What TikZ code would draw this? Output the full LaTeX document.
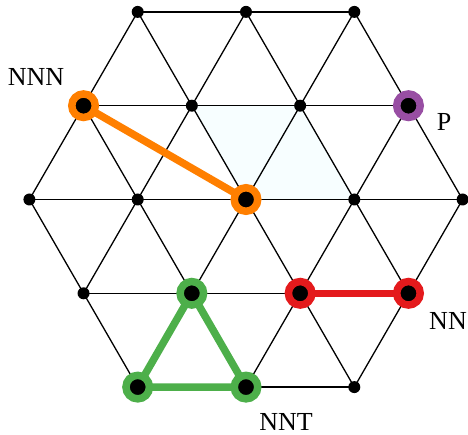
\documentclass[tikz,border=0pt]{standalone}
\usepackage{fontspec}
\setmainfont{Liberation Serif}
\definecolor{cOrange}{HTML}{FF7F00}
\definecolor{cRed}{HTML}{E41A1C}
\definecolor{cGreen}{HTML}{4DAF4A}
\definecolor{cPurple}{HTML}{984EA3}
\definecolor{cShade}{rgb}{0.968,0.996,1}
\begin{document}
\begin{tikzpicture}[x=1pt,y=-1pt,
  lat/.style={line width=1.3pt, black},
  dot/.style={circle, fill=black, inner sep=0pt, minimum size=12pt},
  ring/.style={circle, fill=black, draw=#1, line width=7.5pt, inner sep=0pt, minimum size=23.5pt},
  bond/.style={line width=7.5pt, draw=#1, line cap=round},
  lab/.style={font=\fontsize{26}{26}\selectfont, inner sep=0pt}]
\useasboundingbox (0,0) rectangle (468,435);
% lattice coordinates
\foreach \r/\c in {0/3,1/4,2/5,3/4,4/3} {
  \pgfmathtruncatemacro\cm{\c-1}
  \foreach \k in {0,...,\cm} {
    \coordinate (n-\r-\k) at ({246+(\k-(\c-1)/2)*108.3}, {199.5+(\r-2)*93.8});
  }
}
% shaded rhombus
\fill[cShade] (n-1-1) -- (n-1-2) -- (n-2-3) -- (n-2-2) -- cycle;
% horizontal edges
\foreach \r/\m in {0/1,1/2,2/3,3/2,4/1} {
  \foreach \k [evaluate=\k as \kk using int(\k+1)] in {0,...,\m} {
    \draw[lat] (n-\r-\k) -- (n-\r-\kk);
  }
}
% upper diagonals
\foreach \r/\m [evaluate=\r as \s using int(\r+1)] in {0/2,1/3} {
  \foreach \k [evaluate=\k as \kk using int(\k+1)] in {0,...,\m} {
    \draw[lat] (n-\r-\k) -- (n-\s-\k);
    \draw[lat] (n-\r-\k) -- (n-\s-\kk);
  }
}
% lower diagonals
\foreach \r/\m [evaluate=\r as \s using int(\r-1)] in {3/3,4/2} {
  \foreach \k [evaluate=\k as \kk using int(\k+1)] in {0,...,\m} {
    \draw[lat] (n-\r-\k) -- (n-\s-\k);
    \draw[lat] (n-\r-\k) -- (n-\s-\kk);
  }
}
% dots
\foreach \r/\c in {0/3,1/4,2/5,3/4,4/3} {
  \pgfmathtruncatemacro\cm{\c-1}
  \foreach \k in {0,...,\cm} {
    \node[dot] (d-\r-\k) at (n-\r-\k) {};
  }
}
% bonds
\draw[bond=cOrange] (n-1-0) -- (n-2-2);
\draw[bond=cRed] (n-3-2) -- (n-3-3);
\draw[bond=cGreen, line join=round] (n-3-1) -- (n-4-0) -- (n-4-1) -- cycle;
% rings
\node[ring=cOrange] (nnnA) at (n-1-0) {};
\node[ring=cOrange] (nnnB) at (n-2-2) {};
\node[ring=cPurple] (pp) at (n-1-3) {};
\node[ring=cRed] (nnA) at (n-3-2) {};
\node[ring=cRed] (nnB) at (n-3-3) {};
\node[ring=cGreen] (ntA) at (n-3-1) {};
\node[ring=cGreen] (ntB) at (n-4-0) {};
\node[ring=cGreen] (ntC) at (n-4-1) {};
% labels
\node[lab] (lNNN) at (36,77) {NNN};
\node[lab] (lP) at (444,122) {P};
\node[lab] (lNN) at (448,321) {NN};
\node[lab] (lNNT) at (286,422) {NNT};
\end{tikzpicture}
\end{document}
